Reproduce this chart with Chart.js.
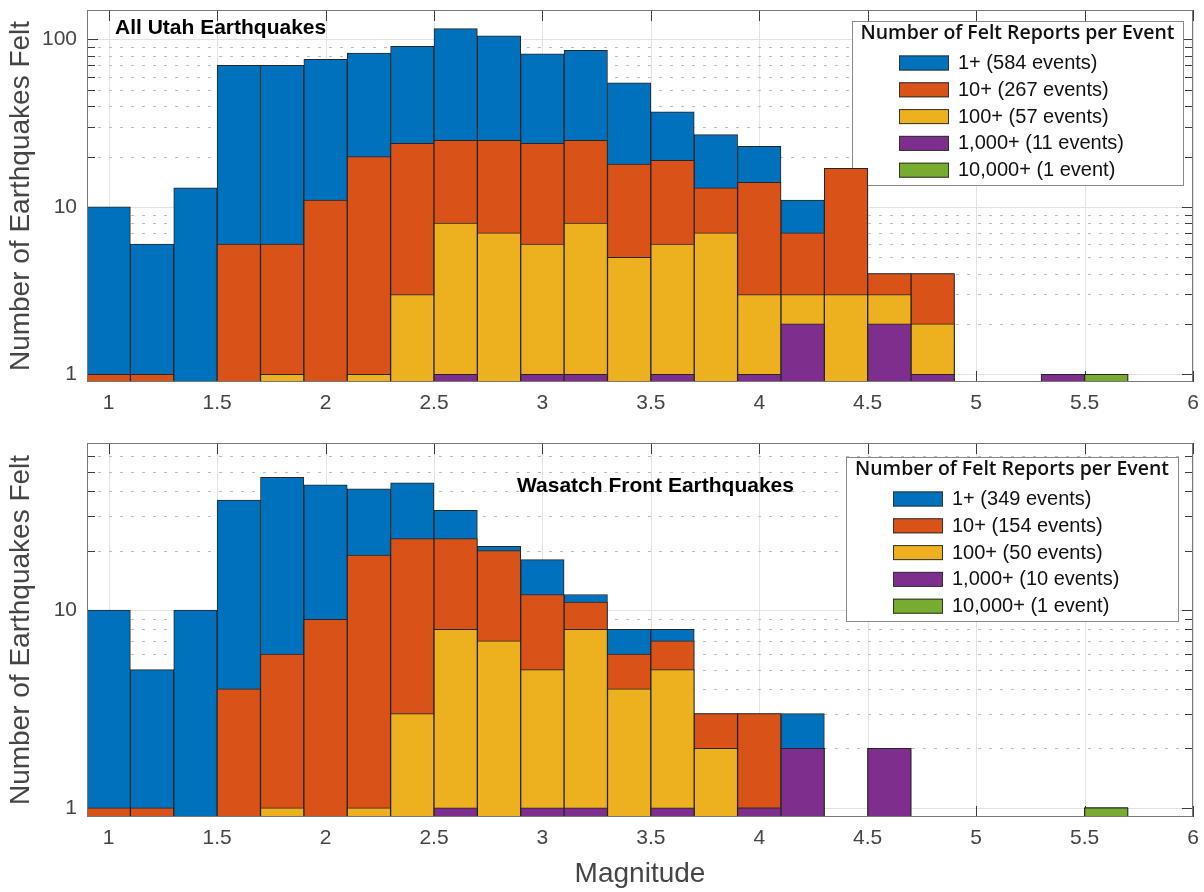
<!DOCTYPE html>
<html>
<head>
<meta charset="utf-8">
<script src="https://cdn.jsdelivr.net/npm/chart.js@4.4.0/dist/chart.umd.min.js"></script>
<style>
  body { margin: 0; background: #fff; width: 1204px; height: 892px; overflow: hidden; position: relative; }
  canvas { position: absolute; left: 0; display: block; }
</style>
</head>
<body>
<canvas id="utahChart" width="1204" height="420" style="top:0"></canvas>
<canvas id="wasatchChart" width="1204" height="472" style="top:420px"></canvas>
<script>
// magnitude bins (centres, 0.2 wide) and axis ticks
const magBins = [1.0, 1.2, 1.4, 1.6, 1.8, 2.0, 2.2, 2.4, 2.6, 2.8, 3.0, 3.2, 3.4, 3.6, 3.8, 4.0, 4.2, 4.4, 4.6, 4.8, 5.0, 5.2, 5.4, 5.6];
const magTicks = [1, 1.5, 2, 2.5, 3, 3.5, 4, 4.5, 5, 5.5, 6];
const countTicks = [1, 10, 100];

// All Utah: number of quakes per bin with at least N felt reports
const utah1     = [10, 6, 13, 70, 70, 76, 83, 91, 116, 105, 82, 86, 55, 37, 27, 23, 11, 17, 4, 4, null, null, 1, 1];
const utah10    = [1, 1, null, 6, 6, 11, 20, 24, 25, 25, 24, 25, 18, 19, 13, 14, 7, 17, 4, 4, null, null, 1, 1];
const utah100   = [null, null, null, null, 1, null, 1, 3, 8, 7, 6, 8, 5, 6, 7, 3, 3, 3, 3, 2, null, null, 1, 1];
const utah1000  = [null, null, null, null, null, null, null, null, 1, null, 1, 1, null, 1, null, 1, 2, null, 2, 1, null, null, 1, 1];
const utah10000 = [null, null, null, null, null, null, null, null, null, null, null, null, null, null, null, null, null, null, null, null, null, null, null, 1];
const utahLabels = ['1+ (584 events)', '10+ (267 events)', '100+ (57 events)', '1,000+ (11 events)', '10,000+ (1 event)'];

// Wasatch Front
const wasatch1     = [10, 5, 10, 36, 47, 43, 41, 44, 32, 21, 18, 12, 8, 8, 3, 3, 3, null, 2, null, null, null, null, 1];
const wasatch10    = [1, 1, null, 4, 6, 9, 19, 23, 23, 20, 12, 11, 6, 7, 3, 3, 2, null, 2, null, null, null, null, 1];
const wasatch100   = [null, null, null, null, 1, null, 1, 3, 8, 7, 5, 8, 4, 5, 2, 1, 2, null, 2, null, null, null, null, 1];
const wasatch1000  = [null, null, null, null, null, null, null, null, 1, null, 1, 1, null, 1, null, 1, 2, null, 2, null, null, null, null, 1];
const wasatch10000 = [null, null, null, null, null, null, null, null, null, null, null, null, null, null, null, null, null, null, null, null, null, null, null, 1];
const wasatchLabels = ['1+ (349 events)', '10+ (154 events)', '100+ (50 events)', '1,000+ (10 events)', '10,000+ (1 event)'];

const feltColors = ['#0072BD', '#D95319', '#EDB120', '#7E2F8E', '#77AC30'];

const SANS = '"Liberation Sans", Arial, Helvetica, sans-serif';
const TEXT_GREY = '#454545';

function toPoints(vals) {
    return magBins.map((m, i) => ({ x: m, y: vals[i] })).filter(p => p.y !== null);
}

// overlapping (not stacked) histogram bars, 1+ at the back
function buildDatasets(series, labels) {
    return series.map((vals, k) => ({
        label: labels[k],
        data: toPoints(vals),
        backgroundColor: feltColors[k],
        borderColor: '#262626',
        borderWidth: 1,
        borderSkipped: false,
        grouped: false,
        barPercentage: 1,
        categoryPercentage: 1,
        order: series.length - k
    }));
}

function hline(ctx, x0, x1, y) {
    ctx.beginPath(); ctx.moveTo(x0, y); ctx.lineTo(x1, y); ctx.stroke();
}
function vline(ctx, x, y0, y1) {
    ctx.beginPath(); ctx.moveTo(x, y0); ctx.lineTo(x, y1); ctx.stroke();
}

// no extra room for half-labels at the axis ends
function noScalePadding(s) {
    s.paddingTop = 0; s.paddingBottom = 0; s.paddingLeft = 0; s.paddingRight = 0;
}

// MATLAB-style axes: light grid, dotted minor grid, inward ticks, box, legend, panel label
const feltFrame = {
    id: 'feltFrame',
    beforeDatasetsDraw(chart, args, opts) {
        const { ctx, chartArea: a, scales: { x, y } } = chart;
        ctx.save();
        ctx.lineWidth = 1;

        // minor log values between the decades
        const minors = [];
        for (let dec = 1; dec < y.max; dec *= 10) {
            for (let m = 2; m <= 9; m++) if (m * dec < y.max) minors.push(m * dec);
        }
        const majors = countTicks.filter(v => v <= y.max);

        ctx.strokeStyle = '#e3e3e3';
        magTicks.forEach(v => vline(ctx, Math.round(x.getPixelForValue(v)) + 0.5, a.top, a.bottom));
        majors.forEach(v => hline(ctx, a.left, a.right, Math.round(y.getPixelForValue(v)) + 0.5));

        ctx.strokeStyle = '#bdbdbd';
        ctx.setLineDash([3, 8]);
        minors.forEach(v => hline(ctx, a.left, a.right, Math.round(y.getPixelForValue(v)) + 0.5));
        ctx.setLineDash([]);

        // inward ticks on all four sides
        ctx.strokeStyle = '#3c3c3c';
        magTicks.forEach(v => {
            const px = Math.round(x.getPixelForValue(v)) + 0.5;
            vline(ctx, px, a.top, a.top + 11);
            vline(ctx, px, a.bottom - 11, a.bottom);
        });
        majors.forEach(v => {
            const py = Math.round(y.getPixelForValue(v)) + 0.5;
            hline(ctx, a.left, a.left + 11, py);
            hline(ctx, a.right - 11, a.right, py);
        });
        minors.forEach(v => {
            const py = Math.round(y.getPixelForValue(v)) + 0.5;
            hline(ctx, a.left, a.left + 8, py);
            hline(ctx, a.right - 8, a.right, py);
        });

        // legend box
        const [bx, by, bw, bh] = opts.legendBox;
        ctx.fillStyle = '#fff';
        ctx.fillRect(bx, by, bw, bh);
        ctx.strokeStyle = '#8a8a8a';
        ctx.strokeRect(bx + 0.5, by + 0.5, bw, bh);

        ctx.fillStyle = '#111';
        ctx.font = '600 20px "Open Sans", "Noto Sans", sans-serif';
        ctx.textBaseline = 'middle';
        ctx.textAlign = 'center';
        const tw = ctx.measureText(opts.legendTitle).width;
        ctx.save();
        ctx.translate(bx + bw / 2, by + 12);
        ctx.scale(314 / tw, 1);
        ctx.fillText(opts.legendTitle, 0, 0);
        ctx.restore();

        ctx.textAlign = 'left';
        ctx.font = '20px ' + SANS;
        chart.data.datasets.forEach((ds, k) => {
            const cy = by + 42 + k * 26.8;
            ctx.fillStyle = ds.backgroundColor;
            ctx.fillRect(bx + 47, cy - 7.5, 50, 15);
            ctx.strokeStyle = '#333';
            ctx.strokeRect(bx + 47.5, cy - 7, 49, 14);
            ctx.fillStyle = '#111';
            ctx.fillText(ds.label, bx + 106, cy + 0.5);
        });
        ctx.restore();
    },
    afterDatasetsDraw(chart) {
        const { ctx, chartArea: a } = chart;
        ctx.save();
        ctx.strokeStyle = '#777';
        ctx.lineWidth = 1;
        ctx.strokeRect(Math.round(a.left) + 0.5, Math.round(a.top) + 0.5,
            Math.round(a.right - a.left) - 1, Math.round(a.bottom - a.top) - 1);
        ctx.restore();
    },
    afterDraw(chart, args, opts) {
        const { ctx } = chart;
        ctx.save();
        ctx.fillStyle = '#000';
        ctx.font = 'bold 21px ' + SANS;
        ctx.textBaseline = 'alphabetic';
        ctx.textAlign = 'left';
        ctx.fillText(opts.panelTitle, opts.titleAt[0], opts.titleAt[1]);
        ctx.restore();
    }
};

function makeChart(id, series, labels, frame) {
    const ctx = document.getElementById(id).getContext('2d');
    return new Chart(ctx, {
        type: 'bar',
        data: { datasets: buildDatasets(series, labels) },
        options: {
            responsive: false,
            animation: false,
            layout: { padding: { left: 0, top: frame.padTop, right: 11, bottom: 0 } },
            plugins: {
                legend: { display: false },
                tooltip: { enabled: false },
                feltFrame: {
                    legendBox: frame.legendBox,
                    legendTitle: 'Number of Felt Reports per Event',
                    panelTitle: frame.panelTitle,
                    titleAt: frame.titleAt
                }
            },
            scales: {
                x: {
                    type: 'linear',
                    min: 0.9,
                    max: 6,
                    offset: false,
                    afterBuildTicks: s => { s.ticks = magTicks.map(v => ({ value: v })); },
                    afterFit: s => { s.height = frame.xHeight; noScalePadding(s); },
                    grid: { display: false, drawTicks: false },
                    border: { display: false },
                    ticks: {
                        padding: 9, color: TEXT_GREY, maxRotation: 0, autoSkip: false,
                        font: { family: SANS, size: 21 },
                        callback: v => String(v)
                    },
                    title: {
                        display: frame.showXTitle,
                        text: 'Magnitude',
                        color: TEXT_GREY,
                        font: { family: SANS, size: 28 },
                        padding: { top: 0, bottom: 1 }
                    }
                },
                y: {
                    type: 'logarithmic',
                    min: 0.9,
                    max: frame.yMax,
                    afterBuildTicks: s => { s.ticks = countTicks.filter(v => v <= frame.yMax).map(v => ({ value: v })); },
                    afterFit: s => { s.width = 87; noScalePadding(s); },
                    grid: { display: false, drawTicks: false },
                    border: { display: false },
                    ticks: {
                        padding: 10, color: TEXT_GREY,
                        font: { family: SANS, size: 21 },
                        callback: v => String(v)
                    },
                    title: {
                        display: true,
                        text: 'Number of Earthquakes Felt',
                        color: TEXT_GREY,
                        font: { family: SANS, size: 28 },
                        padding: { top: 4, bottom: 0 }
                    }
                }
            }
        },
        plugins: [feltFrame]
    });
}

makeChart('utahChart', [utah1, utah10, utah100, utah1000, utah10000], utahLabels, {
    padTop: 10, xHeight: 38, yMax: 150, showXTitle: false,
    legendBox: [852, 21, 331, 164],
    panelTitle: 'All Utah Earthquakes', titleAt: [115, 34]
});

makeChart('wasatchChart', [wasatch1, wasatch10, wasatch100, wasatch1000, wasatch10000], wasatchLabels, {
    padTop: 23, xHeight: 75, yMax: 70, showXTitle: true,
    legendBox: [846, 37, 332, 164],
    panelTitle: 'Wasatch Front Earthquakes', titleAt: [517, 72]
});
</script>
</body>
</html>
